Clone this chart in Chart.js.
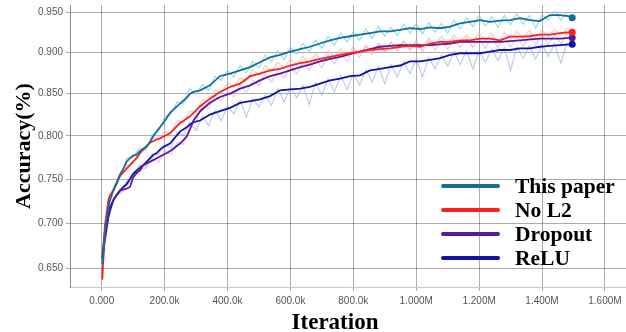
<!DOCTYPE html>
<html>
<head>
<meta charset="utf-8">
<script src="https://cdn.jsdelivr.net/npm/chart.js@4.4.1/dist/chart.umd.min.js"></script>
<style>
  html, body { margin: 0; padding: 0; background: #fff; }
  #wrap { position: relative; width: 626px; height: 332px; overflow: hidden; }
  #xtitle { position: absolute; left: 335px; top: 309px; transform: translateX(-50%);
    font: bold 23px "Liberation Serif", "Times New Roman", serif; color: #000; white-space: nowrap; }
  #legend { position: absolute; left: 441px; top: 174px; }
  .row { display: flex; align-items: center; height: 24.1px; }
  .sw { width: 59px; height: 4px; border-radius: 2px; margin-right: 15px; }
  .lab { font: bold 21.5px "Liberation Serif", "Times New Roman", serif; color: #000; line-height: 24px; white-space: nowrap; }
</style>
</head>
<body>
<div id="wrap">
  <canvas id="c" width="626" height="332"></canvas>
  <div id="xtitle">Iteration</div>
  <div id="legend"></div>
</div>
<script>
// ---------------- data ----------------
const seriesNames = ['This paper', 'No L2', 'Dropout', 'ReLU'];
const xTitle = 'Iteration';
const yTitle = 'Accuracy(%)';
const xTickValues = [0, 200000, 400000, 600000, 800000, 1000000, 1200000, 1400000, 1600000];
const xTickLabels = ['0.000', '200.0k', '400.0k', '600.0k', '800.0k', '1.000M', '1.200M', '1.400M', '1.600M'];
const yTickValues = [0.65, 0.70, 0.75, 0.80, 0.85, 0.90, 0.95];
const yTickLabels = ['0.650', '0.700', '0.750', '0.800', '0.850', '0.900', '0.950'];

// smoothed curves: iteration (thousands)
const iterationsK = [2, 5, 10, 16, 21, 26, 37, 48, 58, 69, 79, 90, 100, 111, 122, 132, 143, 154, 165, 175, 185,
  196, 217, 249, 270, 281, 292, 313, 344, 376, 408, 440, 472, 503, 535, 567, 599, 631, 662, 694, 726,
  758, 790, 821, 853, 885, 917, 949, 980, 1012, 1044, 1076, 1108, 1139, 1171, 1203, 1235, 1266, 1298, 1330, 1362,
  1393, 1425, 1457, 1489, 1496];

const thisPaper = [0.655,0.663,0.690,0.707,0.718,0.726, 0.737,0.746,0.755,0.762,0.770, 0.774,0.777,0.778,0.782,0.785,
  0.788,0.793,0.800,0.805,0.810, 0.815,0.827,0.838,0.845,0.850, 0.852,0.854,0.860,0.871,0.874,
  0.878,0.882,0.888,0.894,0.897, 0.901,0.904,0.907,0.911,0.915, 0.918,0.920,0.922,0.924,0.926,
  0.926,0.928,0.930,0.929,0.931, 0.930,0.932,0.936,0.938,0.940, 0.938,0.9395,0.940,0.9425,0.940,
  0.939,0.9465,0.9465,0.945,0.943];
const noL2 = [0.638,0.660,0.697,0.712,0.726,0.731, 0.737,0.745,0.754,0.758,0.762, 0.766,0.770,0.774,0.780,0.784,
  0.788,0.792,0.794,0.796,0.797, 0.799,0.803,0.815,0.820,0.823, 0.827,0.835,0.844,0.852,0.858,
  0.862,0.871,0.874,0.878,0.880, 0.884,0.887,0.889,0.892,0.8945, 0.897,0.899,0.901,0.903,0.904,
  0.905,0.907,0.908,0.907,0.911, 0.913,0.913,0.915,0.915,0.917, 0.917,0.915,0.9195,0.9195,0.920,
  0.922,0.922,0.924,0.925,0.925];
const dropout = [0.662,0.675,0.690,0.697,0.710,0.718, 0.726,0.732,0.737,0.738,0.739, 0.741,0.752,0.757,0.760,0.766,
  0.768,0.770,0.772,0.774,0.776, 0.778,0.782,0.791,0.799,0.808, 0.818,0.829,0.839,0.846,0.850,
  0.856,0.860,0.866,0.871,0.874, 0.878,0.882,0.885,0.889,0.892, 0.8945,0.898,0.901,0.904,0.907,
  0.908,0.909,0.909,0.909,0.909, 0.910,0.911,0.913,0.913,0.913, 0.913,0.913,0.914,0.915,0.916,
  0.917,0.917,0.917,0.918,0.918];
const relu = [0.660,0.668,0.681,0.695,0.707,0.714, 0.726,0.732,0.737,0.741,0.744, 0.750,0.756,0.760,0.763,0.766,
  0.770,0.774,0.778,0.780,0.784, 0.787,0.791,0.805,0.810,0.8135, 0.816,0.818,0.825,0.829,0.833,
  0.839,0.841,0.843,0.847,0.854, 0.855,0.856,0.858,0.862,0.866, 0.868,0.871,0.872,0.878,0.880,
  0.882,0.884,0.889,0.889,0.891, 0.893,0.897,0.899,0.899,0.899, 0.901,0.903,0.903,0.905,0.905,
  0.907,0.908,0.909,0.910,0.910];

// raw (unsmoothed) curves, drawn faintly: iteration (thousands)
const rawIterationsK = [20,40,60,80,100,120,140,160,180,200, 220,240,260,280,300,320,340,360,380,400,
  420,440,460,480,500,520,540,560,580,600, 620,640,660,680,700,720,740,760,780,800,
  820,840,860,880,900,920,940,960,980,1000, 1020,1040,1060,1080,1100,1120,1140,1160,1180,1200,
  1220,1240,1260,1280,1300,1320,1340,1360,1380,1400, 1420,1440,1460,1480];
const thisPaperRaw = [0.714,0.743,0.753,0.774,0.775,0.786,0.783,0.801,0.805,0.822,
  0.826,0.840,0.838,0.856,0.849,0.861,0.854,0.871,0.866,0.878,
  0.870,0.884,0.875,0.889,0.881,0.897,0.889,0.902,0.891,0.907,
  0.898,0.911,0.901,0.915,0.905,0.920,0.909,0.924,0.913,0.926,
  0.915,0.929,0.917,0.932,0.920,0.931,0.921,0.935,0.924,0.936,
  0.923,0.937,0.925,0.936,0.924,0.940,0.929,0.943,0.932,0.946,
  0.933,0.944,0.931,0.946,0.934,0.948,0.935,0.946,0.930,0.947,
  0.940,0.951,0.940,0.950];
const noL2Raw = [0.726,0.742,0.753,0.766,0.768,0.783,0.785,0.798,0.794,0.806,
  0.802,0.818,0.815,0.829,0.827,0.843,0.840,0.855,0.850,0.864,
  0.858,0.869,0.865,0.879,0.872,0.884,0.876,0.888,0.880,0.892,
  0.884,0.895,0.886,0.899,0.889,0.902,0.893,0.905,0.895,0.907,
  0.898,0.909,0.900,0.911,0.901,0.913,0.903,0.914,0.904,0.914,
  0.905,0.918,0.909,0.920,0.910,0.921,0.912,0.922,0.913,0.924,
  0.914,0.924,0.912,0.925,0.916,0.926,0.917,0.927,0.918,0.928,
  0.919,0.929,0.921,0.930];
const dropoutRaw = [0.706,0.730,0.734,0.743,0.749,0.763,0.762,0.775,0.769,0.783,
  0.778,0.792,0.790,0.812,0.817,0.836,0.832,0.847,0.841,0.854,
  0.846,0.861,0.851,0.866,0.860,0.874,0.864,0.878,0.869,0.883,
  0.874,0.888,0.878,0.892,0.881,0.897,0.886,0.900,0.889,0.904,
  0.894,0.908,0.897,0.911,0.900,0.913,0.902,0.914,0.902,0.914,
  0.901,0.915,0.903,0.915,0.904,0.917,0.906,0.918,0.906,0.918,
  0.905,0.919,0.906,0.919,0.907,0.920,0.908,0.921,0.909,0.922,
  0.910,0.922,0.911,0.923];
const reluRaw = [0.703,0.729,0.735,0.748,0.752,0.766,0.764,0.779,0.778,0.790,
  0.786,0.804,0.801,0.816,0.806,0.823,0.812,0.830,0.818,0.835,
  0.826,0.842,0.822,0.844,0.834,0.848,0.836,0.856,0.840,0.858,
  0.845,0.860,0.837,0.863,0.848,0.868,0.852,0.872,0.855,0.874,
  0.860,0.879,0.864,0.883,0.862,0.885,0.870,0.889,0.874,0.892,
  0.870,0.894,0.880,0.897,0.883,0.901,0.885,0.902,0.880,0.902,
  0.888,0.904,0.890,0.906,0.878,0.907,0.893,0.908,0.892,0.910,
  0.895,0.911,0.887,0.912];

// ---------------- styles ----------------
const mainColors = ['#176c98', '#ff1f1f', '#5a1a94', '#1212a6'];
const rawColors = ['rgba(120,214,234,0.85)', 'rgba(255,176,152,0.7)', 'rgba(206,164,240,0.65)', 'rgba(146,168,238,0.65)'];

// warped linear scale: the source picture's y spacing widens slightly toward the bottom
const WARP = 0.0787;
const LS = Chart.LinearScale || Chart.registry.getScale('linear');
class WarpedLinear extends LS {
  getPixelForValue(value) {
    if (value === null || value === undefined) return NaN;
    const d = (value - this._startValue) / this._valueRange;
    const f = 1 - d;
    const g = f + WARP * (f * f - f);
    return this.getPixelForDecimal(1 - g);
  }
  getValueForPixel(pixel) {
    const g = 1 - this.getDecimalForPixel(pixel);
    const a = WARP, b = 1 - WARP;
    const f = (-b + Math.sqrt(b * b + 4 * a * g)) / (2 * a);
    return this._startValue + (1 - f) * this._valueRange;
  }
}
WarpedLinear.id = 'warpedLinear';
WarpedLinear.defaults = LS.defaults;
Chart.register(WarpedLinear);

const series = [thisPaper, noL2, dropout, relu];
const raws = [thisPaperRaw, noL2Raw, dropoutRaw, reluRaw];
const toPts = (ks, arr) => arr.map((v, i) => ({ x: ks[i] * 1000, y: v }));

const datasets = [];
raws.forEach((r, i) => datasets.push({
  label: seriesNames[i] + ' (raw)', data: toPts(rawIterationsK, r), borderColor: rawColors[i], borderWidth: 1.1,
  pointRadius: 0, tension: 0, order: 10 + i
}));
series.forEach((s, i) => datasets.push({
  label: seriesNames[i], data: toPts(iterationsK, s), borderColor: mainColors[i], backgroundColor: mainColors[i],
  borderWidth: 1.8, tension: 0, order: 1 + i,
  pointRadius: ctx => ctx.dataIndex === s.length - 1 ? 3.5 : 0,
  pointHoverRadius: 0, pointBorderWidth: 0
}));

const gridColor = 'rgba(0,0,0,0.33)';
const tickFont = { family: '"Liberation Sans", Arial, sans-serif', size: 10 };
new Chart(document.getElementById('c'), {
  type: 'line',
  data: { datasets },
  options: {
    responsive: false,
    animation: false,
    events: [],
    layout: { autoPadding: false, padding: { top: 5, right: 0, left: 0, bottom: 0 } },
    plugins: { legend: { display: false }, tooltip: { enabled: false } },
    scales: {
      x: {
        type: 'linear', min: -100800, max: 1667000,
        afterFit: s => { s.height = 45; s.paddingLeft = 0; s.paddingRight = 0; },
        afterBuildTicks: s => { s.ticks = xTickValues.map(v => ({ value: v })); },
        ticks: {
          autoSkip: false, maxRotation: 0, padding: 4, color: '#555', font: tickFont,
          callback: v => xTickLabels[xTickValues.indexOf(v)] ?? ''
        },
        grid: { color: gridColor, tickLength: 4, drawTicks: true },
        border: { display: true, color: '#c8c8c8' }
      },
      y: {
        type: 'warpedLinear', min: 0.630, max: 0.9592,
        afterFit: s => { s.width = 70; s.paddingTop = 0; s.paddingBottom = 0; },
        afterBuildTicks: s => { s.ticks = yTickValues.map(v => ({ value: v })); },
        ticks: {
          autoSkip: false, padding: 3, color: '#555', font: tickFont,
          callback: v => yTickLabels[yTickValues.indexOf(v)] ?? ''
        },
        grid: { color: gridColor, tickLength: 4, drawTicks: true },
        border: { display: true, color: '#8a8a8a' },
        title: {
          display: true, text: yTitle, color: '#000', padding: { top: 11, bottom: 0 },
          font: { family: '"Liberation Serif", "Times New Roman", serif', size: 22, weight: 'bold' }
        }
      }
    }
  }
});

// legend
const lg = document.getElementById('legend');
seriesNames.forEach((n, i) => {
  const row = document.createElement('div'); row.className = 'row';
  const sw = document.createElement('div'); sw.className = 'sw'; sw.style.background = mainColors[i];
  const lab = document.createElement('div'); lab.className = 'lab'; lab.textContent = n;
  row.appendChild(sw); row.appendChild(lab); lg.appendChild(row);
});
document.getElementById('xtitle').textContent = xTitle;
</script>
</body>
</html>
